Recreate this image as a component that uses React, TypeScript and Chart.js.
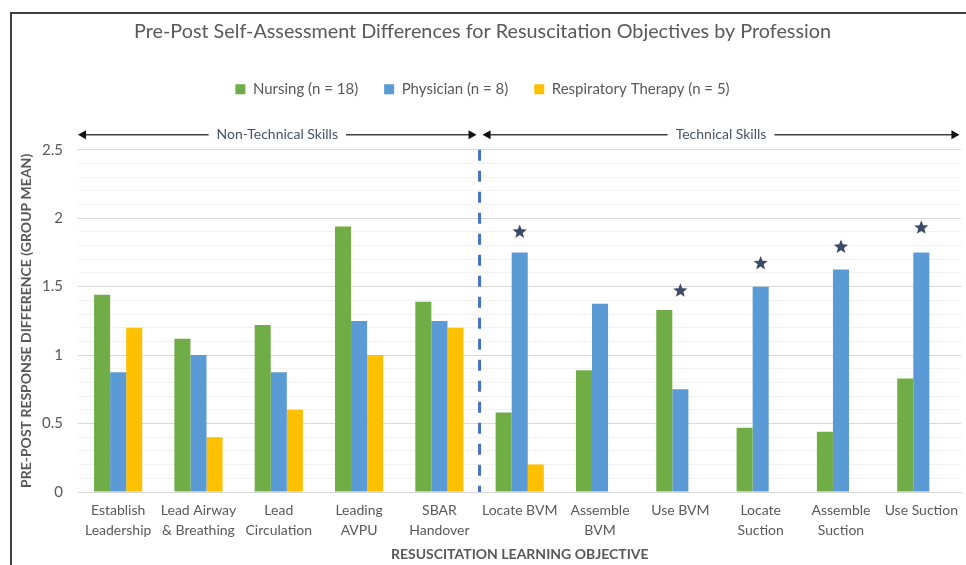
import React, { useEffect, useRef } from 'react';
import { Chart, registerables } from 'chart.js';

Chart.register(...registerables);

const categories: (string | string[])[] = [
  ['Establish', 'Leadership'],
  ['Lead Airway', '& Breathing'],
  ['Lead', 'Circulation'],
  ['Leading', 'AVPU'],
  ['SBAR', 'Handover'],
  'Locate BVM',
  ['Assemble', 'BVM'],
  'Use BVM',
  ['Locate', 'Suction'],
  ['Assemble', 'Suction'],
  'Use Suction',
];
const nursing = [1.44, 1.12, 1.22, 1.94, 1.39, 0.58, 0.89, 1.33, 0.47, 0.44, 0.83];
const physician = [0.875, 1.0, 0.875, 1.25, 1.25, 1.75, 1.375, 0.75, 1.5, 1.625, 1.75];
const respiratory: (number | null)[] = [1.2, 0.4, 0.6, 1.0, 1.2, 0.2, null, null, null, null, null];
const starMarks: (number | null)[] = [null, null, null, null, null, 1.9, null, 1.47, 1.67, 1.79, 1.93];
const seriesNames = ['Nursing (n = 18)', 'Physician (n = 8)', 'Respiratory Therapy (n = 5)'];
const groupLabels = ['Non-Technical Skills', 'Technical Skills'];
const firstTechnicalIndex = 5;

const FONT = "Lato, 'Open Sans', sans-serif";
const GRAY = '#595959';

function drawStar(ctx: CanvasRenderingContext2D, cx: number, cy: number, outer: number, inner: number) {
  ctx.beginPath();
  for (let i = 0; i < 10; i++) {
    const r = i % 2 === 0 ? outer : inner;
    const a = -Math.PI / 2 + (i * Math.PI) / 5;
    const x = cx + r * Math.cos(a);
    const y = cy + r * Math.sin(a);
    if (i === 0) ctx.moveTo(x, y);
    else ctx.lineTo(x, y);
  }
  ctx.closePath();
  ctx.fill();
}

function arrowHead(ctx: CanvasRenderingContext2D, x: number, y: number, dir: number) {
  ctx.beginPath();
  ctx.moveTo(x, y);
  ctx.lineTo(x - dir * 8, y - 4.5);
  ctx.lineTo(x - dir * 8, y + 4.5);
  ctx.closePath();
  ctx.fill();
}

const decorPlugin = {
  id: 'decor',
  afterDatasetsDraw(chart: any) {
    const ctx: CanvasRenderingContext2D = chart.ctx;
    const { chartArea } = chart;
    const xs = chart.scales.x;
    const ys = chart.scales.y;
    const divX = (xs.getPixelForValue(firstTechnicalIndex - 1) + xs.getPixelForValue(firstTechnicalIndex)) / 2;

    // dashed divider
    ctx.save();
    ctx.strokeStyle = '#4472c4';
    ctx.lineWidth = 3;
    ctx.setLineDash([11, 10]);
    ctx.beginPath();
    ctx.moveTo(divX, chartArea.top);
    ctx.lineTo(divX, chartArea.bottom);
    ctx.stroke();
    ctx.restore();

    // stars
    const meta = chart.getDatasetMeta(1);
    ctx.save();
    ctx.fillStyle = '#3a4a68';
    starMarks.forEach((v, i) => {
      if (v == null) return;
      const bar = meta.data[i];
      drawStar(ctx, bar.x, ys.getPixelForValue(v), 7.5, 3.2);
    });
    ctx.restore();

    // arrows + group labels
    const ay = chartArea.top - 15;
    const segs = [
      [chartArea.left, divX - 3, groupLabels[0]],
      [divX + 3, chartArea.right - 2, groupLabels[1]],
    ] as [number, number, string][];
    ctx.save();
    ctx.font = `14px ${FONT}`;
    ctx.textAlign = 'center';
    ctx.textBaseline = 'middle';
    segs.forEach(([x0, x1, label]) => {
      const cx = (x0 + x1) / 2;
      const w = ctx.measureText(label).width;
      ctx.strokeStyle = '#404040';
      ctx.fillStyle = '#111111';
      ctx.lineWidth = 1.5;
      ctx.beginPath();
      ctx.moveTo(x0 + 4, ay);
      ctx.lineTo(cx - w / 2 - 8, ay);
      ctx.moveTo(cx + w / 2 + 8, ay);
      ctx.lineTo(x1 - 4, ay);
      ctx.stroke();
      arrowHead(ctx, x0, ay, -1);
      arrowHead(ctx, x1, ay, 1);
      ctx.fillStyle = '#44546a';
      ctx.fillText(label, cx, ay);
    });
    ctx.restore();
  },
  afterDraw(chart: any) {
    const ctx: CanvasRenderingContext2D = chart.ctx;
    ctx.save();
    ctx.strokeStyle = '#404040';
    ctx.lineWidth = 2;
    ctx.beginPath();
    ctx.moveTo(11, chart.height);
    ctx.lineTo(11, 13);
    ctx.lineTo(chart.width, 13);
    ctx.stroke();
    ctx.restore();
  },
};

export default function App() {
  const ref = useRef<HTMLCanvasElement>(null);
  useEffect(() => {
    if (!ref.current) return;
    const isMajor = (v: number) => Math.abs(v * 2 - Math.round(v * 2)) < 1e-6;
    const chart = new Chart(ref.current, {
      type: 'bar',
      data: {
        labels: categories,
        datasets: [
          { label: seriesNames[0], data: nursing, backgroundColor: '#70ad47' },
          { label: seriesNames[1], data: physician, backgroundColor: '#5b9bd5' },
          { label: seriesNames[2], data: respiratory, backgroundColor: '#ffc000' },
        ],
      },
      options: {
        animation: false,
        responsive: false,
        layout: { padding: { left: 0, right: 1, top: 0, bottom: 0 } },
        datasets: { bar: { categoryPercentage: 0.6, barPercentage: 1 } },
        plugins: {
          title: {
            display: true,
            text: 'Pre-Post Self-Assessment Differences for Resuscitation Objectives by Profession',
            color: GRAY,
            font: { family: FONT, size: 19.8, weight: 'normal', lineHeight: 1.2 },
            padding: { top: 20, bottom: 12 },
          },
          subtitle: {
            display: true,
            text: '',
            weight: 500,
            font: { size: 1, lineHeight: 1 },
            padding: { top: 42, bottom: 0 },
          } as any,
          legend: {
            display: true,
            position: 'top',
            labels: {
              color: GRAY,
              font: { family: FONT, size: 15 },
              boxWidth: 10,
              boxHeight: 10,
              padding: 26,
            },
          },
          tooltip: { enabled: false },
        },
        scales: {
          x: {
            grid: { display: false, drawTicks: false },
            border: { display: true, color: '#d9d9d9' },
            ticks: {
              color: GRAY,
              font: { family: FONT, size: 14, lineHeight: 1.45 },
              maxRotation: 0,
              autoSkip: false,
              padding: 8,
            },
            title: {
              display: true,
              text: 'RESUSCITATION LEARNING OBJECTIVE',
              color: GRAY,
              font: { family: FONT, size: 14, weight: 'bold' },
              padding: { top: 0, bottom: 2 },
            },
            afterFit: (s: any) => {
              s.height = 73;
            },
          },
          y: {
            min: 0,
            max: 2.5,
            ticks: {
              stepSize: 0.1,
              autoSkip: false,
              color: GRAY,
              font: { family: FONT, size: 15 },
              padding: 15,
              callback: (v: any) => (isMajor(Number(v)) ? String(Math.round(Number(v) * 10) / 10) : ''),
            },
            grid: {
              drawTicks: false,
              color: (c: any) => (isMajor(c.tick.value) ? '#d9d9d9' : '#f2f2f2'),
              lineWidth: 1,
            },
            border: { display: false },
            title: {
              display: true,
              text: 'PRE-POST RESPONSE DIFFERENCE (GROUP MEAN)',
              color: GRAY,
              font: { family: FONT, size: 14, weight: 'bold' },
              padding: { top: 18, bottom: 0 },
            },
            afterFit: (s: any) => {
              s.width = 78;
            },
          },
        },
      },
      plugins: [decorPlugin],
    });
    return () => chart.destroy();
  }, []);
  return (
    <div style={{ position: 'fixed', left: 0, top: 0, width: 966, height: 565, background: '#fff' }}>
      <canvas ref={ref} width={966} height={565} style={{ display: 'block' }} />
    </div>
  );
}
